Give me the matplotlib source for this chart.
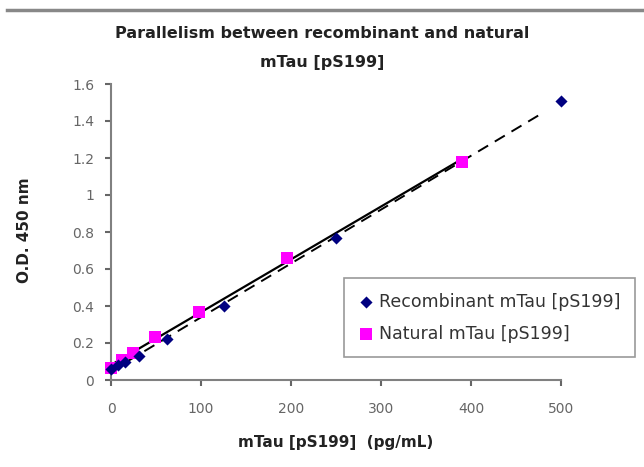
import numpy as np
import matplotlib
matplotlib.use("Agg")
import matplotlib.pyplot as plt
from matplotlib.lines import Line2D

# Data
recomb_x = [500, 250, 125, 62.5, 31.25, 15.63, 7.81, 0]
recomb_y = [1.51, 0.77, 0.40, 0.22, 0.13, 0.10, 0.08, 0.06]
natural_x = [390, 195, 97.5, 48.75, 24.38, 12.19, 0]
natural_y = [1.18, 0.66, 0.37, 0.23, 0.145, 0.11, 0.065]
x_ticks = [0, 100, 200, 300, 400, 500]
y_ticks = [0, 0.2, 0.4, 0.6, 0.8, 1, 1.2, 1.4, 1.6]
y_tick_labels = ["0", "0.2", "0.4", "0.6", "0.8", "1", "1.2", "1.4", "1.6"]

plt.rcParams['font.family'] = ['DejaVu Sans']

fig = plt.figure(figsize=(6.44, 4.67), dpi=100)
ax = fig.add_axes([111/644, 1-380/467, (561-111)/644, (380-84)/467])

# top gray rule
fig.add_artist(Line2D([7/644, 1.0], [1-10/467, 1-10/467], color="#888888", lw=2.5,
                      transform=fig.transFigure))

# trend lines (linear fits)
rx = np.array(recomb_x, float); ry = np.array(recomb_y, float)
nx = np.array(natural_x, float); ny = np.array(natural_y, float)
rp = np.polyfit(rx, ry, 1)
npf = np.polyfit(nx, ny, 1)
xr = np.array([0, 480.0])
xn = np.array([0, nx.max()])
ax.plot(xn, np.polyval(npf, xn), color="black", lw=1.6, zorder=2)
ax.plot(xr, np.polyval(rp, xr), color="black", lw=1.4, dashes=(6, 4), zorder=2)

ax.scatter(natural_x, natural_y, marker="s", s=70, color="#FF00FF", zorder=3,
           label="Natural mTau [pS199]", linewidths=0, clip_on=False)
ax.scatter(recomb_x, recomb_y, marker="D", s=38, color="#000080", zorder=4,
           label="Recombinant mTau [pS199]", linewidths=0, clip_on=False)

ax.set_xlim(0, 500)
ax.set_ylim(0, 1.6)
ax.set_xticks(x_ticks)
ax.set_xticklabels([str(v) for v in x_ticks])
ax.set_yticks(y_ticks)
ax.set_yticklabels(y_tick_labels)

for s in ["top", "right"]:
    ax.spines[s].set_visible(False)
for s in ["left", "bottom"]:
    ax.spines[s].set_color("#808080")
    ax.spines[s].set_linewidth(1.5)
ax.tick_params(axis="both", colors="#666666", labelsize=10, length=4, width=1.5,
               direction="out")
ax.tick_params(axis="x", pad=12)
ax.tick_params(axis="y", pad=8)

fig.text(322/644, 1-33/467, "Parallelism between recombinant and natural",
         ha="center", va="center", fontsize=11.5, fontweight="bold", color="#222222")
fig.text(322/644, 1-62/467, "mTau [pS199]",
         ha="center", va="center", fontsize=11.5, fontweight="bold", color="#222222")
fig.text(25/644, 1-230/467, "O.D. 450 nm", rotation=90, ha="center", va="center",
         fontsize=11, fontweight="bold", color="#222222")
fig.text(336/644, 1-443/467, "mTau [pS199]  (pg/mL)", ha="center", va="center",
         fontsize=11, fontweight="bold", color="#222222")

handles, labels = ax.get_legend_handles_labels()
leg = ax.legend(handles[::-1], labels[::-1], loc="upper left",
                bbox_to_anchor=(344/644, 1-278/467), bbox_transform=fig.transFigure,
                frameon=True, fancybox=False, edgecolor="#808080", fontsize=12.5,
                handlelength=0.8, handletextpad=0.35, borderpad=0.85, labelspacing=0.8,
                borderaxespad=0, labelcolor="#333333")
leg.get_frame().set_linewidth(1.2)

fig.savefig("out.png", dpi=100)
